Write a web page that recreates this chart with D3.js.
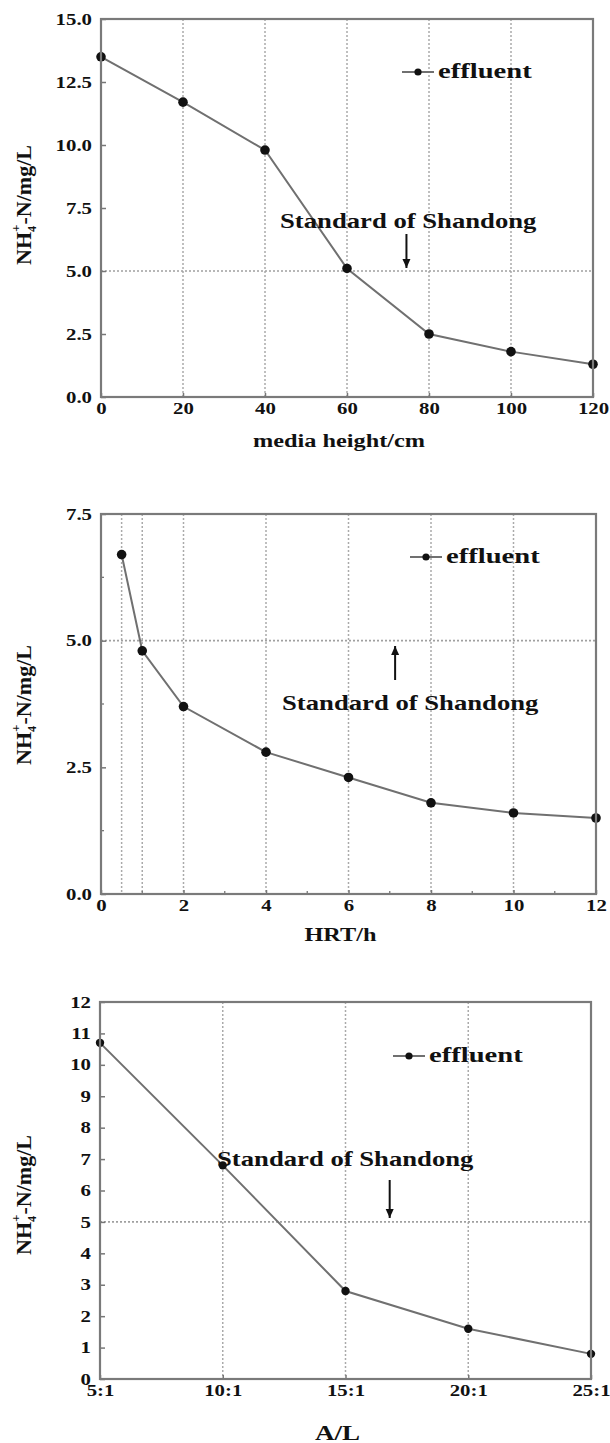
<!DOCTYPE html>
<meta charset="utf-8">
<script src="https://d3js.org/d3.v7.min.js"></script>
<style>
  body { margin: 0; background: #fff; }
  text { font-family: "Liberation Serif", "Times New Roman", serif; font-weight: bold; fill: #111; }
</style>
<div id="my_dataviz"></div>
<script>

// media height panel
var heightX = [0, 20, 40, 60, 80, 100, 120];
var heightY = [13.5, 11.7, 9.8, 5.1, 2.5, 1.8, 1.3];
var heightXTicks = [0, 20, 40, 60, 80, 100, 120];
var heightYTicks = [0, 2.5, 5, 7.5, 10, 12.5, 15];
var heightGrid = [20, 40, 60, 80, 100];

// HRT panel
var hrtX = [0.5, 1, 2, 4, 6, 8, 10, 12];
var hrtY = [6.7, 4.8, 3.7, 2.8, 2.3, 1.8, 1.6, 1.5];
var hrtXTicks = [0, 2, 4, 6, 8, 10, 12];
var hrtYTicks = [0, 2.5, 5, 7.5];
var hrtGrid = [0.5, 1, 2, 4, 6, 8, 10];

// A/L panel
var alX = ["5:1", "10:1", "15:1", "20:1", "25:1"];
var alY = [10.7, 6.8, 2.8, 1.6, 0.8];
var alYTicks = [0, 1, 2, 3, 4, 5, 6, 7, 8, 9, 10, 11, 12];
var alGrid = ["10:1", "15:1", "20:1"];

var standard = 5;
var seriesName = "effluent";
var noteText = "Standard of Shandong";

var svg = d3.select("#my_dataviz")
  .append("svg")
    .attr("width", 610)
    .attr("height", 1443);

// widen glyphs a bit, the figure was stretched horizontally
function stretch(sel, k) {
  sel.each(function() {
    var len = this.getComputedTextLength();
    d3.select(this).attr("textLength", len * k).attr("lengthAdjust", "spacingAndGlyphs");
  });
}

function panel(p) {
  var g = svg.append("g");
  var x = p.x, y = p.y;

  // grid
  g.selectAll(".vg").data(p.grid).enter().append("line")
    .attr("x1", function(d) { return x(d); }).attr("x2", function(d) { return x(d); })
    .attr("y1", p.top).attr("y2", p.bottom)
    .attr("stroke", "#aaa").attr("stroke-width", 1.5).attr("stroke-dasharray", "2,2");
  g.append("line")
    .attr("x1", p.left).attr("x2", p.right)
    .attr("y1", y(standard)).attr("y2", y(standard))
    .attr("stroke", "#a0a0a0").attr("stroke-width", 1.7).attr("stroke-dasharray", "2,2");

  // axes, ticks inside
  var ya = g.append("g").attr("transform", "translate(" + p.left + ",0)")
    .call(d3.axisLeft(y).tickValues(p.yTicks).tickSizeInner(-5).tickSizeOuter(0).tickPadding(9).tickFormat(p.yFmt));
  var xa = g.append("g").attr("transform", "translate(0," + p.bottom + ")")
    .call(d3.axisBottom(x).tickValues(p.xTicks).tickSizeInner(-4).tickSizeOuter(0).tickPadding(10).tickFormat(p.xFmt));
  [ya, xa].forEach(function(a) {
    a.select(".domain").remove();
    a.selectAll(".tick line").attr("stroke", "#777").attr("stroke-width", 1.5);
    a.selectAll("text").attr("font-size", 16).attr("fill", "#111")
      .style("font-family", "Liberation Serif").style("font-weight", "bold");
    stretch(a.selectAll("text"), 1.3);
  });
  xa.selectAll("text").attr("dy", "0.45em");

  // minor ticks
  if (p.yMinor) {
    g.selectAll(".ym").data(p.yMinor).enter().append("line")
      .attr("x1", p.left).attr("x2", p.left + 3)
      .attr("y1", function(d) { return y(d); }).attr("y2", function(d) { return y(d); })
      .attr("stroke", "#777").attr("stroke-width", 1.3);
  }
  if (p.xMinor) {
    g.selectAll(".xm").data(p.xMinor).enter().append("line")
      .attr("x1", function(d) { return x(d); }).attr("x2", function(d) { return x(d); })
      .attr("y1", p.bottom).attr("y2", p.bottom - 3)
      .attr("stroke", "#777").attr("stroke-width", 1.3);
  }

  // series
  var pts = p.xs.map(function(d, i) { return [d, p.ys[i]]; });
  g.append("path")
    .datum(pts)
    .attr("fill", "none").attr("stroke", "#707070").attr("stroke-width", 2)
    .attr("d", d3.line().x(function(d) { return x(d[0]); }).y(function(d) { return y(d[1]); }));
  g.selectAll(".pt").data(pts).enter().append("circle")
    .attr("cx", function(d) { return x(d[0]); })
    .attr("cy", function(d) { return y(d[1]); })
    .attr("r", p.r)
    .attr("fill", "#111");

  // frame
  g.append("rect")
    .attr("x", p.left).attr("y", p.top)
    .attr("width", p.right - p.left).attr("height", p.bottom - p.top)
    .attr("fill", "none").attr("stroke", "#7a7a7a").attr("stroke-width", 2.2);

  // legend
  g.append("line")
    .attr("x1", p.legX).attr("x2", p.legX + 32)
    .attr("y1", p.legY - 6).attr("y2", p.legY - 6)
    .attr("stroke", "#707070").attr("stroke-width", 2);
  g.append("circle").attr("cx", p.legX + 16).attr("cy", p.legY - 6).attr("r", 3.6).attr("fill", "#111");
  stretch(g.append("text")
    .attr("x", p.legX + 36).attr("y", p.legY)
    .attr("font-size", 22)
    .text(seriesName), 1.3);

  // note and arrow
  stretch(g.append("text")
    .attr("x", p.noteX).attr("y", p.noteY)
    .attr("font-size", 21)
    .text(noteText), 1.27);
  var ax = p.arrowPx;
  g.append("line")
    .attr("x1", ax).attr("x2", ax)
    .attr("y1", p.arrowFrom).attr("y2", p.arrowTo)
    .attr("stroke", "#111").attr("stroke-width", 2);
  var dir = p.arrowTo > p.arrowFrom ? 1 : -1;
  g.append("path")
    .attr("d", "M" + (ax - 4) + "," + (p.arrowTo - dir * 9) + "L" + (ax + 4) + "," + (p.arrowTo - dir * 9) + "L" + ax + "," + p.arrowTo + "Z")
    .attr("fill", "#111");

  // axis titles
  stretch(g.append("text")
    .attr("x", (p.left + p.right) / 2 - 8).attr("y", p.xTitleY)
    .attr("text-anchor", "middle")
    .attr("font-size", p.xTitleSize)
    .text(p.xTitle), 1.35);

  var yt = g.append("text")
    .attr("transform", "translate(31," + p.yTitleY + ") rotate(-90)")
    .attr("text-anchor", "middle")
    .attr("font-size", 22);
  yt.append("tspan").text("NH");
  yt.append("tspan").attr("font-size", 12).attr("dy", 5).text("4");
  yt.append("tspan").attr("font-size", 13).attr("dx", -6).attr("dy", -16).text("+");
  yt.append("tspan").attr("dy", 11).text("-N/mg/L");
}

var f1 = d3.format(".1f");

// panel 1
var x1 = d3.scaleLinear().domain([0, 120]).range([101, 593]);
var y1 = d3.scaleLinear().domain([0, 15]).range([397, 19]);
panel({
  x: x1, y: y1, left: 101, right: 593, top: 19, bottom: 397,
  xs: heightX, ys: heightY, xTicks: heightXTicks, yTicks: heightYTicks, grid: heightGrid,
  xFmt: d3.format("d"), yFmt: f1, r: 4.8,
  legX: 402, legY: 78, noteX: 280, noteY: 228,
  arrowPx: x1(74.5), arrowFrom: 234, arrowTo: 268,
  xTitle: "media height/cm", xTitleY: 447, xTitleSize: 18, yTitleY: 205
});

// panel 2
var x2 = d3.scaleLinear().domain([0, 12]).range([101, 596]);
var y2 = d3.scaleLinear().domain([0, 7.5]).range([894, 514]);
panel({
  x: x2, y: y2, left: 101, right: 596, top: 514, bottom: 894,
  xs: hrtX, ys: hrtY, xTicks: hrtXTicks, yTicks: hrtYTicks, grid: hrtGrid,
  xFmt: d3.format("d"), yFmt: f1, r: 4.8,
  yMinor: [1.25, 3.75, 6.25], xMinor: [1, 3, 5, 7, 9, 11],
  legX: 410, legY: 563, noteX: 282, noteY: 710,
  arrowPx: x2(7.13), arrowFrom: 680, arrowTo: 646,
  xTitle: "HRT/h", xTitleY: 941, xTitleSize: 18, yTitleY: 705
});

// panel 3
var x3 = d3.scalePoint().domain(alX).range([100, 591]);
var y3 = d3.scaleLinear().domain([0, 12]).range([1379, 1002]);
panel({
  x: x3, y: y3, left: 100, right: 591, top: 1002, bottom: 1379,
  xs: alX, ys: alY, xTicks: alX, yTicks: alYTicks, grid: alGrid,
  xFmt: function(d) { return d; }, yFmt: d3.format("d"), r: 4.2,
  legX: 393, legY: 1062, noteX: 217, noteY: 1166,
  // arrow sits about a third of the way from 15:1 to 20:1
  arrowPx: x3("15:1") + 0.36 * x3.step(), arrowFrom: 1180, arrowTo: 1218,
  xTitle: "A/L", xTitleY: 1440, xTitleSize: 20, yTitleY: 1195
});

</script>
